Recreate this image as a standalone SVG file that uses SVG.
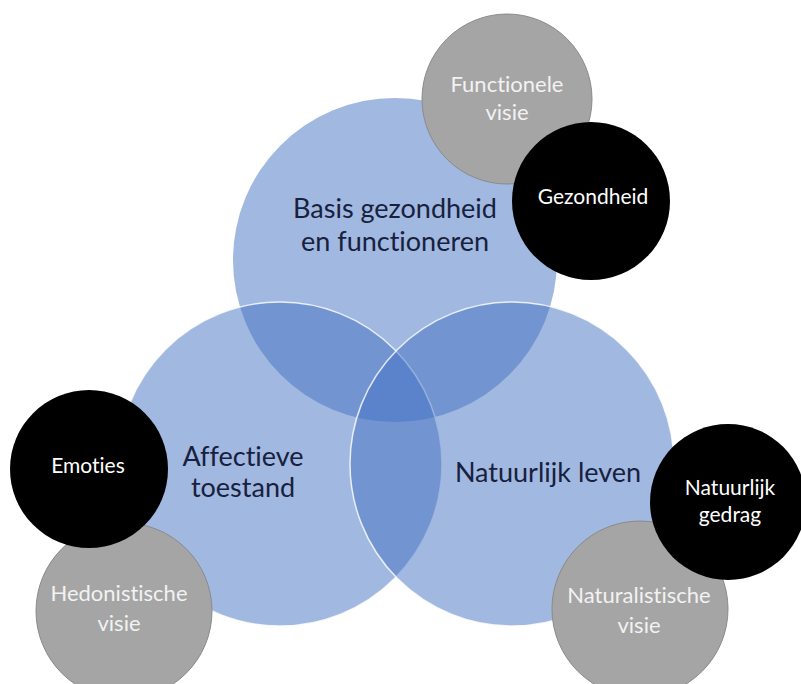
<svg xmlns="http://www.w3.org/2000/svg" width="801" height="684" viewBox="0 0 801 684">
<style>
.big{fill:#4472c4;fill-opacity:0.5}
.edge{stroke:#ffffff;stroke-opacity:0.8;stroke-width:1.5}
.gray{fill:#a5a5a5;stroke:#8a8a8a;stroke-width:1}
.black{fill:#000000}
text{font-family:Lato,"Open Sans","Liberation Sans",sans-serif;text-anchor:middle;font-variant-ligatures:none}
.lbl{font-size:27px;fill:#17213d}
.gt{font-size:22px;fill:#f2f2f2}
.bt{font-size:21px;fill:#ffffff}
</style>
<rect width="801" height="684" fill="#ffffff"/>
<g id="basis">
<circle class="big" cx="395" cy="260" r="162"/>
</g>
<g id="affectief">
<circle class="big edge" cx="280" cy="464" r="162"/>
</g>
<g id="natuurlijk">
<circle class="big edge" cx="512" cy="464" r="162"/>
</g>
<g id="labels-big">
<text class="lbl" x="395" y="218">Basis gezondheid</text>
<text class="lbl" x="395" y="251">en functioneren</text>
<text class="lbl" x="243" y="466">Affectieve</text>
<text class="lbl" x="243" y="497">toestand</text>
<text class="lbl" x="548" y="482">Natuurlijk leven</text>
</g>
<g id="functionele-visie">
<circle class="gray" cx="507" cy="99" r="85"/>
<text class="gt" x="507" y="92">Functionele</text>
<text class="gt" x="507" y="120">visie</text>
</g>
<g id="gezondheid">
<circle class="black" cx="591" cy="201" r="79"/>
<text class="bt" x="593" y="204">Gezondheid</text>
</g>
<g id="hedonistische-visie">
<circle class="gray" cx="124" cy="611" r="88"/>
<text class="gt" x="119" y="601">Hedonistische</text>
<text class="gt" x="119" y="631">visie</text>
</g>
<g id="emoties">
<circle class="black" cx="89" cy="469" r="79"/>
<text class="bt" x="88" y="473">Emoties</text>
</g>
<g id="naturalistische-visie">
<circle class="gray" cx="640" cy="609" r="88"/>
<text class="gt" x="639" y="603">Naturalistische</text>
<text class="gt" x="639" y="633">visie</text>
</g>
<g id="natuurlijk-gedrag">
<circle class="black" cx="728" cy="502" r="78"/>
<text class="bt" x="730" y="495">Natuurlijk</text>
<text class="bt" x="730" y="522">gedrag</text>
</g>
<g id="connectors"></g>
</svg>
